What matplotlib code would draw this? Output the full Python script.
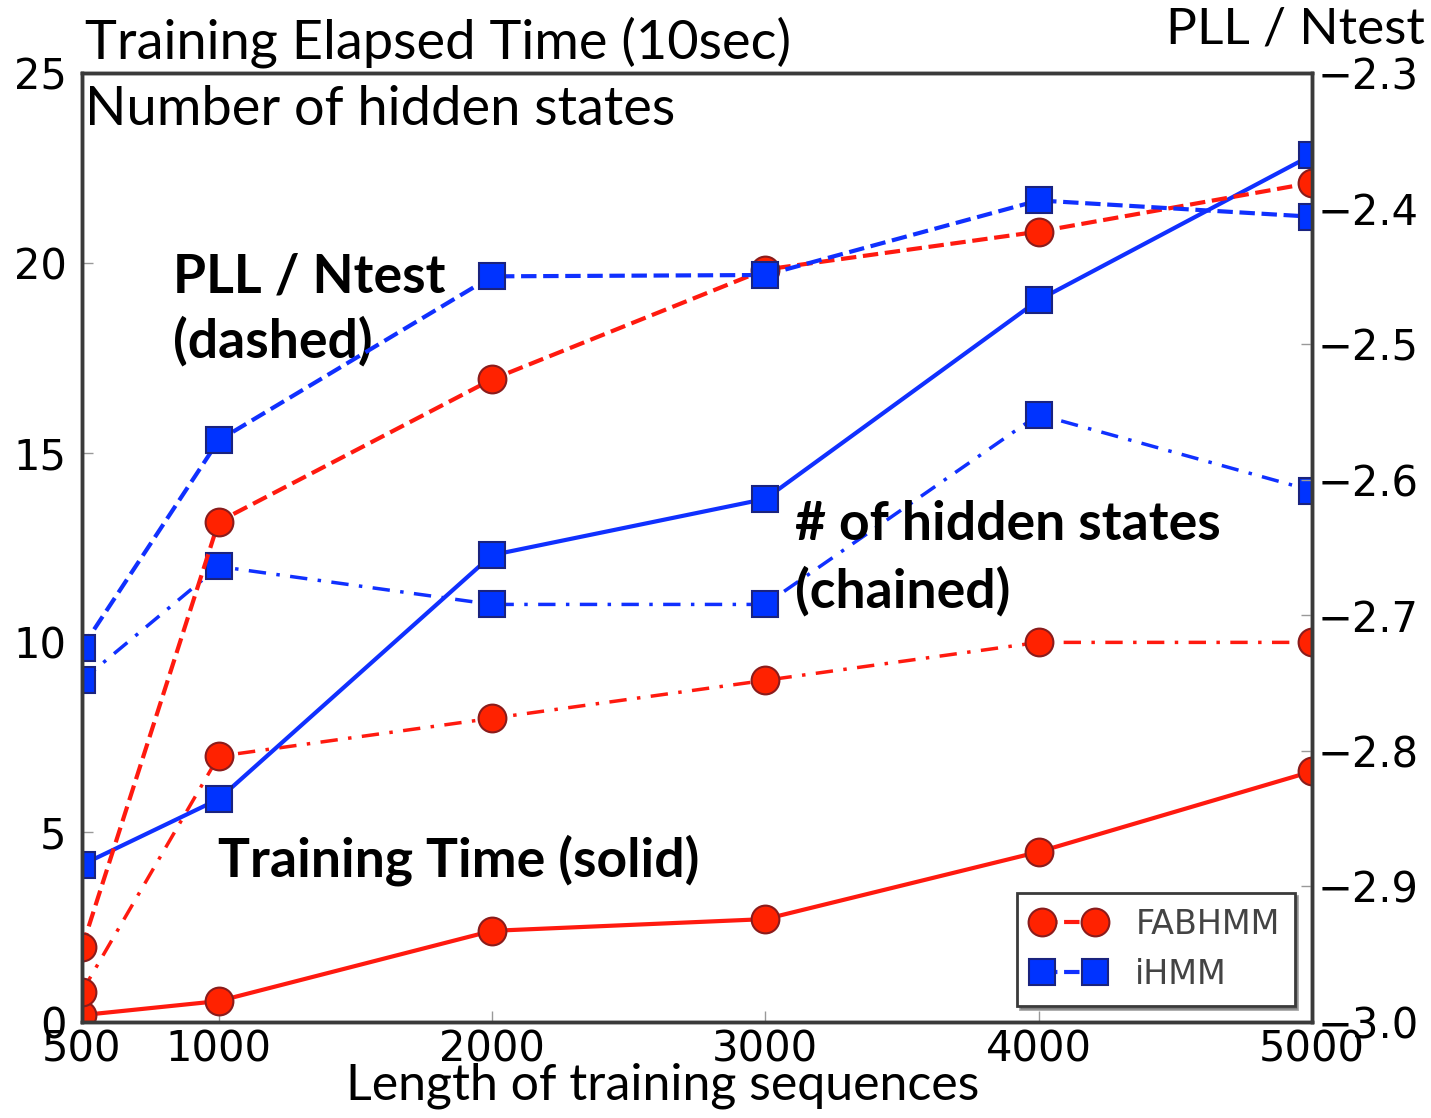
import matplotlib
matplotlib.use("Agg")
from matplotlib import pyplot as plt
from matplotlib.lines import Line2D

plt.rcParams["font.family"] = ["DejaVu Sans"]

# sequence lengths used for training
lengths = [500, 1000, 2000, 3000, 4000, 5000]

# training time (units of 10 sec), left axis
fab_time = [0.18, 0.55, 2.4, 2.71, 4.48, 6.6]
ihmm_time = [4.14, 5.87, 12.3, 13.78, 19.02, 22.84]

# number of hidden states found, left axis
fab_states = [0.8, 7, 8, 9, 10, 10]
ihmm_states = [9, 12, 11, 11, 16, 14]

# predictive log likelihood per test sample, right axis
fab_pll = [-2.945, -2.631, -2.526, -2.445, -2.417, -2.381]
ihmm_pll = [-2.724, -2.571, -2.450, -2.449, -2.394, -2.406]

x_ticks = [500, 1000, 2000, 3000, 4000, 5000]
left_ticks = [0, 5, 10, 15, 20, 25]
right_ticks = [-3.0, -2.9, -2.8, -2.7, -2.6, -2.5, -2.4, -2.3]

RED = "#ff1a0f"
RED_EDGE = "#8a1c1c"
BLUE = "#1030ff"
BLUE_EDGE = "#1a237e"

fab_style = dict(color=RED, marker="o", markersize=20, markerfacecolor="#ff2200",
                 markeredgecolor=RED_EDGE, markeredgewidth=1.5)
ihmm_style = dict(color=BLUE, marker="s", markersize=19, markerfacecolor="#0033ff",
                  markeredgecolor=BLUE_EDGE, markeredgewidth=1.5)
chain = (0, (5, 3, 1, 3))

fig = plt.figure(figsize=(14.31, 11.18), dpi=100)
ax = fig.add_axes([0.0573, 0.0859, 0.8595, 0.8488])
ax2 = ax.twinx()

# time (solid) and number of states (chained) on the left scale
ax.plot(lengths, fab_time, linestyle="-", linewidth=3, **fab_style)
ax.plot(lengths, fab_states, linestyle=chain, linewidth=2.5, **fab_style)
ax.plot(lengths, ihmm_time, linestyle="-", linewidth=3, **ihmm_style)
ax.plot(lengths, ihmm_states, linestyle=chain, linewidth=2.5, **ihmm_style)

# PLL / Ntest (dashed) on the right scale
ax2.plot(lengths, fab_pll, linestyle="--", linewidth=3, **fab_style)
ax2.plot(lengths, ihmm_pll, linestyle="--", linewidth=3, **ihmm_style)

ax.set_xlim(500, 5000)
ax.set_ylim(0, 25)
ax2.set_ylim(-3.0, -2.3)
ax.set_xticks(x_ticks)
ax.set_yticks(left_ticks)
ax2.set_yticks(right_ticks)
ax2.set_yticklabels(["\u2212%.1f" % abs(v) for v in right_ticks])

for a in (ax, ax2):
    for sp in a.spines.values():
        sp.set_color("#3a3a3a")
        sp.set_linewidth(2.5)
    a.tick_params(direction="in", length=8, width=1, color="#999999",
                  labelsize=30, pad=4)
ax.tick_params(axis="x", pad=5)
ax.tick_params(axis="y", pad=11)
ax2.tick_params(axis="y", pad=4)

text_font = ["Lato", "DejaVu Sans"]
fig.text(0.0594, 0.948, "Training Elapsed Time (10sec)", fontsize=39,
         family=text_font, va="baseline", ha="left")
fig.text(0.0594, 0.888, "Number of hidden states", fontsize=39,
         family=text_font, va="baseline", ha="left")
fig.text(0.996, 0.9615, "PLL / Ntest", fontsize=37,
         family=text_font, va="baseline", ha="right")
fig.text(0.463, 0.0165, "Length of training sequences", fontsize=36,
         family=text_font, va="baseline", ha="center")

notes = [
    (0.074, 0.769, "PLL / Ntest"),
    (0.074, 0.700, "(dashed)"),
    (0.580, 0.508, "# of hidden states"),
    (0.580, 0.437, "(chained)"),
    (0.1106, 0.153, "Training Time (solid)"),
]
for nx, ny, s in notes:
    ax.text(nx, ny, s, transform=ax.transAxes, fontsize=38.5, fontweight="bold",
            family=text_font, va="baseline", ha="left", zorder=5)

handles = [
    Line2D([], [], linestyle="--", linewidth=3, **fab_style),
    Line2D([], [], linestyle="--", linewidth=3, **ihmm_style),
]
leg = ax2.legend(handles, ["FABHMM", "iHMM"], loc="lower right",
                 bbox_to_anchor=(0.986, 0.017), borderaxespad=0, numpoints=2,
                 handlelength=2.2, fontsize=24, frameon=True, fancybox=False,
                 shadow=True, borderpad=0.45, labelspacing=0.5, handletextpad=0.9)
leg.get_frame().set_edgecolor("#3a3a3a")
leg.get_frame().set_linewidth(2)
for t in leg.get_texts():
    t.set_color("#444444")

fig.savefig("out.png", dpi=100)
